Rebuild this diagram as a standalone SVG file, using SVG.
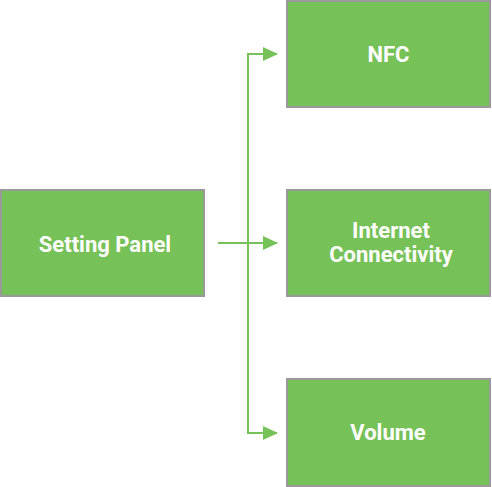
<svg xmlns="http://www.w3.org/2000/svg" width="492" height="487" viewBox="0 0 492 487">
<style>
.box{fill:#77c159;stroke:#999999;stroke-width:2}
.lbl{font-family:Roboto,"Liberation Sans",sans-serif;font-weight:bold;font-size:22px;fill:#ffffff;text-anchor:middle}
.conn{fill:none;stroke:#77c159;stroke-width:2}
</style>
<defs>
<marker id="arr" markerWidth="15" markerHeight="14" refX="14" refY="7" orient="auto" markerUnits="userSpaceOnUse">
<path d="M0,0 L15,7 L0,14 Z" fill="#77c159"/>
</marker>
</defs>
<rect width="492" height="487" fill="#ffffff"/>
<g id="connectors">
<path class="conn" d="M248,433 L248,54 L277,54" marker-end="url(#arr)"/>
<path class="conn" d="M218,243 L277,243" marker-end="url(#arr)"/>
<path class="conn" d="M248,240 L248,433 L277,433" marker-end="url(#arr)"/>
</g>
<g id="setting-panel">
<rect class="box" x="1" y="190" width="203" height="106"/>
<text class="lbl" x="105" y="251.5">Setting Panel</text>
</g>
<g id="nfc">
<rect class="box" x="287" y="1" width="203" height="106"/>
<text class="lbl" x="388.5" y="62">NFC</text>
</g>
<g id="internet-connectivity">
<rect class="box" x="287" y="190" width="203" height="106"/>
<text class="lbl" x="391" y="238.3">Internet</text>
<text class="lbl" x="391" y="261.7">Connectivity</text>
</g>
<g id="volume">
<rect class="box" x="287" y="379" width="203" height="107"/>
<text class="lbl" x="388" y="439.7">Volume</text>
</g>
</svg>
